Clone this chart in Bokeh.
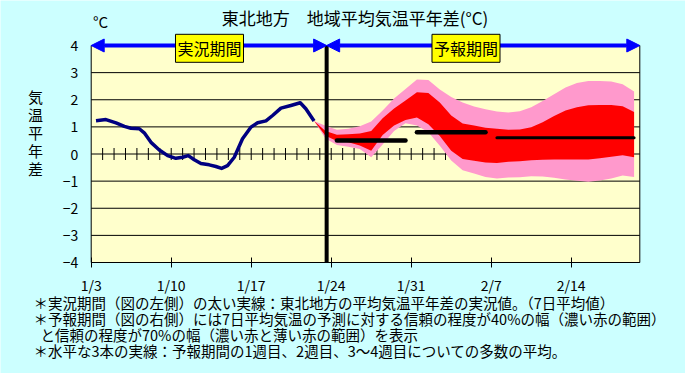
import re
from bokeh.plotting import figure
from bokeh.models import Range1d, FixedTicker, Label, Arrow, NormalHead
from bokeh.core.properties import value
from bokeh.embed import file_html
from bokeh.resources import INLINE

FONT = "Noto Sans CJK JP"

# ---- data (x = days after 1/3) ----
tick_days = [0, 7, 14, 21, 28, 35, 42]
tick_labels = ["1/3", "1/10", "1/17", "1/24", "1/31", "2/7", "2/14"]
y_ticks = [-4, -3, -2, -1, 0, 1, 2, 3, 4]
y_tick_labels = ["\u22124", "\u22123", "\u22122", "\u22121", "0", "1", "2", "3", "4"]

obs_day = [0.42, 1.29, 2.17, 2.9, 3.48, 4.21, 4.64, 5.23, 5.96, 6.69, 7.41, 8.0, 8.49, 9.02,
           9.6, 10.33, 10.91, 11.41, 11.93, 12.52, 13.24, 13.97, 14.56, 15.29, 15.87, 16.6,
           17.47, 18.29, 18.78, 19.5]
obs_val = [1.23, 1.27, 1.15, 1.02, 0.95, 0.93, 0.78, 0.43, 0.15, -0.06, -0.16, -0.12, -0.06, -0.21,
           -0.35, -0.40, -0.46, -0.53, -0.43, -0.12, 0.56, 0.99, 1.15, 1.22, 1.42, 1.69,
           1.79, 1.89, 1.67, 1.22]

fc_day = [19.5, 20.5, 21.5, 22.5, 23.5, 24.5, 25.5, 26.5, 27.5, 28.5, 29.5, 30.5, 31.5, 32.5,
          33.5, 34.5, 35.5, 36.5, 37.5, 38.5, 39.5, 40.5, 41.5, 42.5, 43.5, 44.5, 45.5, 46.5, 47.5]
p70_hi = [1.22, 1.04, 0.89, 0.93, 1.02, 1.20, 1.60, 2.05, 2.40, 2.75, 2.73, 2.38, 2.10, 1.90,
          1.75, 1.65, 1.57, 1.53, 1.58, 1.72, 1.95, 2.20, 2.45, 2.62, 2.69, 2.69, 2.67, 2.57, 2.30]
p40_hi = [1.22, 0.85, 0.71, 0.73, 0.76, 0.85, 1.32, 1.68, 1.97, 2.28, 2.25, 1.90, 1.42, 1.12,
          1.05, 0.97, 0.93, 0.89, 0.90, 0.99, 1.17, 1.40, 1.60, 1.72, 1.80, 1.81, 1.81, 1.76, 1.55]
p40_lo = [1.22, 0.67, 0.48, 0.43, 0.31, 0.12, 0.70, 1.05, 1.25, 1.35, 1.10, 0.66, 0.12, -0.18,
          -0.25, -0.31, -0.33, -0.29, -0.27, -0.23, -0.21, -0.20, -0.20, -0.20, -0.20, -0.16, -0.10, -0.05, -0.12]
p70_lo = [1.22, 0.57, 0.33, 0.27, 0.18, -0.12, 0.35, 0.85, 1.13, 1.05, 0.80, 0.30, -0.24, -0.60,
          -0.72, -0.85, -0.90, -0.87, -0.86, -0.82, -0.83, -0.88, -0.94, -0.99, -1.02, -0.98, -0.90, -0.79, -0.85]

wk_start = [21.5, 28.5, 35.5]
wk_end = [27.5, 34.5, 47.5]
wk_val = [0.5, 0.8, 0.6]

split_day = 20.6
x_lo, x_hi = 0, 48
y_lo, y_hi = -4, 4
daily_ticks = list(range(1, 48))

title_text = "東北地方　地域平均気温平年差(°C)"
unit_text = "°C"
ylabel_text = "気温平年差"
period_labels = ["実況期間", "予報期間"]
notes = [
    "＊実況期間（図の左側）の太い実線：東北地方の平均気温平年差の実況値。（7日平均値）",
    "＊予報期間（図の右側）には7日平均気温の予測に対する信頼の程度が40%の幅（濃い赤の範囲）",
    "と信頼の程度が70%の幅（濃い赤と薄い赤の範囲）を表示",
    "＊水平な3本の実線：予報期間の1週目、2週目、3～4週目についての多数の平均。",
]

# ---- layout: the frame covers the whole canvas ----
W, H = 685, 373
PX_L, PX_R, PY_T, PY_B = 90.7, 639.3, 45.0, 262.0
dpp = (x_hi - x_lo) / (PX_R - PX_L)
vpp = (y_hi - y_lo) / (PY_B - PY_T)


def px(x):
    return x_lo + (x - PX_L) * dpp


def py(y):
    return y_hi - (y - PY_T) * vpp


BG = "#CCFFFF"
p = figure(width=W, height=H, output_backend="svg", toolbar_location=None,
           x_range=Range1d(px(0), px(W)), y_range=Range1d(py(H), py(0)),
           min_border=0, min_border_left=0, min_border_right=0,
           min_border_top=0, min_border_bottom=0)
p.border_fill_color = BG
p.background_fill_color = BG
p.outline_line_color = None
p.xgrid.visible = False
p.ygrid.visible = False
p.yaxis.visible = False

# plot area background, grid lines and border
p.quad(left=[x_lo], right=[x_hi], bottom=[y_lo], top=[y_hi], fill_color="#FFFFCC",
       line_color=None)
p.segment(x0=[x_lo] * len(y_ticks), y0=y_ticks, x1=[x_hi] * len(y_ticks), y1=y_ticks,
          line_color="black", line_width=1)
p.segment(x0=[x_lo, x_hi], y0=[y_lo, y_lo], x1=[x_lo, x_hi], y1=[y_hi, y_hi],
          line_color="black", line_width=1)

# y tick labels (value scale)
p.text(x=[x_lo] * len(y_ticks), y=y_ticks, text=y_tick_labels, x_offset=-13,
       text_align="right", text_baseline="middle", text_font=value(FONT),
       text_font_size="14px", text_color="black")

# x axis at the bottom of the plot area
xax = p.xaxis[0]
xax.fixed_location = y_lo
xax.bounds = (x_lo, x_hi)
xax.ticker = FixedTicker(ticks=tick_days)
xax.major_label_overrides = dict(zip(tick_days, tick_labels))
xax.major_tick_in = 5
xax.major_tick_out = 5
xax.minor_tick_line_color = None
xax.major_label_standoff = 7
xax.major_label_text_font = FONT
xax.major_label_text_font_size = "14px"
xax.major_label_text_color = "black"
xax.axis_line_color = "black"

# daily ticks on zero line
p.scatter(daily_ticks, [0] * len(daily_ticks), marker="dash", angle=1.5708, size=12,
          line_color="black", line_width=1)

# forecast bands
p.varea(x=fc_day, y1=p70_lo, y2=p70_hi, fill_color="#FF99CC")
p.varea(x=fc_day, y1=p40_lo, y2=p40_hi, fill_color="#FF0000")

# observed line
p.line(obs_day, obs_val, line_color="#000080", line_width=3.5, line_join="round")

# weekly means
p.segment(x0=wk_start[:2], y0=wk_val[:2], x1=wk_end[:2], y1=wk_val[:2],
          line_color="black", line_width=4.5, line_cap="round")
p.segment(x0=wk_start[2:], y0=wk_val[2:], x1=wk_end[2:], y1=wk_val[2:],
          line_color="black", line_width=3, line_cap="round")

# split line
p.segment(x0=[split_day], y0=[y_lo], x1=[split_day], y1=[y_hi], line_color="black", line_width=4)

# period arrows
for xs, xe in [(x_lo, split_day), (split_day, x_hi)]:
    p.add_layout(Arrow(x_start=xs, y_start=y_hi, x_end=xe, y_end=y_hi, line_color="#0000FF", line_width=4,
                       start=NormalHead(size=13, fill_color="#0000FF", line_color="#0000FF"),
                       end=NormalHead(size=13, fill_color="#0000FF", line_color="#0000FF")))

for txt, xc in zip(period_labels, [px(209), px(465.5)]):
    p.add_layout(Label(x=xc, y=py(47.8), text=txt, text_align="center", text_baseline="middle",
                       text_font=FONT, text_font_size="16px", text_color="black",
                       background_fill_color="#FFFF00", border_line_color="black",
                       border_line_width=1, padding=2))

# title, unit, y label
p.add_layout(Label(x=px(354.5), y=py(17), text=title_text, text_align="center",
                   text_baseline="middle", text_font=FONT, text_font_size="17px", text_color="black"))
p.add_layout(Label(x=px(100), y=py(21), text=unit_text, text_align="center", text_baseline="middle",
                   text_font=FONT, text_font_size="15px", text_color="black"))
for i, ch in enumerate(ylabel_text):
    p.add_layout(Label(x=px(35), y=py(95.7 + i * 18.1), text=ch, text_align="center",
                       text_baseline="middle", text_font=FONT, text_font_size="15px", text_color="black"))

# notes
for i, line in enumerate(notes):
    xn = px(33) if line.startswith("＊") else px(40)
    p.add_layout(Label(x=xn, y=py(302 + i * 16), text=line, text_align="left", text_baseline="middle",
                       text_font=FONT, text_font_size="14.5px", text_color="black"))

html = file_html(p, INLINE, title="chart")
html = re.sub(r"<body([^>]*)>", r'<body\1 style="background-color:#CCFFFF;">', html, count=1)
open("out.html", "w").write(html)
